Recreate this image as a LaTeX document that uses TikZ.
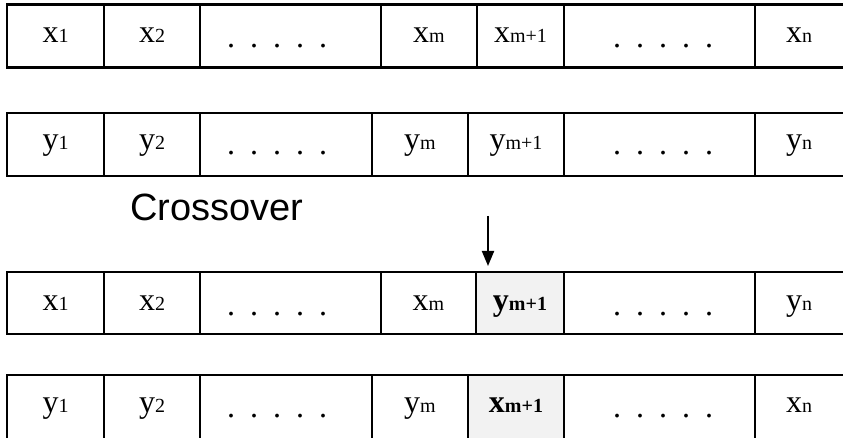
\documentclass[tikz,border=0pt]{standalone}
\usepackage{fontspec}
\setmainfont{Liberation Serif}
\newfontfamily\arialf{Liberation Sans}
\usetikzlibrary{arrows.meta}
\newcommand\subt[1]{{\fontsize{20}{20}\selectfont #1}}
\definecolor{hlgray}{HTML}{F2F2F2}
\tikzset{
  cell/.style={draw=black, line width=2.3pt, inner sep=0pt, outer sep=0pt},
  hl/.style={cell, fill=hlgray},
  lbl/.style={anchor=base, inner sep=0pt, font=\fontsize{32}{32}\selectfont},
  dts/.style={anchor=base west, inner sep=0pt, font=\fontsize{32}{32}\selectfont},
}
\newcommand\dotrow{.\hspace{15pt}.\hspace{15pt}.\hspace{15pt}.\hspace{15pt}.}
\begin{document}
\begin{tikzpicture}[x=1pt,y=-1pt]
\useasboundingbox (0,0) rectangle (843,438);
\clip (0,0) rectangle (843,438);
% row 1
\foreach \a/\b/\s [count=\i] in {7/104/cell,104/200/cell,200/381/cell,381/477/cell,477/564/cell,564/755/cell,755/870/cell}
  \node[\s, minimum width={\b-\a}, minimum height=63] (ra\i) at ({(\a+\b)/2},36) {};
% row 2
\foreach \a/\b/\s [count=\i] in {7/104/cell,104/200/cell,200/372/cell,372/468/cell,468/564/cell,564/755/cell,755/870/cell}
  \node[\s, minimum width={\b-\a}, minimum height=63] (rb\i) at ({(\a+\b)/2},144.5) {};
% row 3
\foreach \a/\b/\s [count=\i] in {7/104/cell,104/200/cell,200/381/cell,381/476/cell,476/564/hl,564/755/cell,755/870/cell}
  \node[\s, minimum width={\b-\a}, minimum height=62] (rc\i) at ({(\a+\b)/2},303) {};
% row 4
\foreach \a/\b/\s [count=\i] in {7/104/cell,104/200/cell,200/372/cell,372/468/cell,468/564/hl,564/755/cell,755/870/cell}
  \node[\s, minimum width={\b-\a}, minimum height=68] (rd\i) at ({(\a+\b)/2},409) {};

% labels row 1
\node[lbl] (la1) at (55.5,43) {x\subt{1}};
\node[lbl] (la2) at (152,43) {x\subt{2}};
\node[dts] (la3) at (227,48) {\dotrow};
\node[lbl] (la4) at (429,43) {x\subt{m}};
\node[lbl] (la5) at (520.5,43) {x\subt{m+1}};
\node[dts] (la6) at (613,48) {\dotrow};
\node[lbl] (la7) at (799,43) {x\subt{n}};
% labels row 2
\node[lbl] (lb1) at (55.5,150) {y\subt{1}};
\node[lbl] (lb2) at (152,150) {y\subt{2}};
\node[dts] (lb3) at (227,155) {\dotrow};
\node[lbl] (lb4) at (420,150) {y\subt{m}};
\node[lbl] (lb5) at (516,150) {y\subt{m+1}};
\node[dts] (lb6) at (613,155) {\dotrow};
\node[lbl] (lb7) at (799,150) {y\subt{n}};
% labels row 3
\node[lbl] (lc1) at (55.5,310) {x\subt{1}};
\node[lbl] (lc2) at (152,310) {x\subt{2}};
\node[dts] (lc3) at (227,315) {\dotrow};
\node[lbl] (lc4) at (428.5,310) {x\subt{m}};
\node[lbl] (lc5) at (520,310) {\textbf{y}\subt{\bfseries m+1}};
\node[dts] (lc6) at (613,315) {\dotrow};
\node[lbl] (lc7) at (799,310) {y\subt{n}};
% labels row 4
\node[lbl] (ld1) at (55.5,412) {y\subt{1}};
\node[lbl] (ld2) at (152,412) {y\subt{2}};
\node[dts] (ld3) at (227,417) {\dotrow};
\node[lbl] (ld4) at (420,412) {y\subt{m}};
\node[lbl] (ld5) at (516,412) {\textbf{x}\subt{\bfseries m+1}};
\node[dts] (ld6) at (613,417) {\dotrow};
\node[lbl] (ld7) at (799,412) {x\subt{n}};

% crossover
\node[anchor=base, inner sep=0pt, font=\arialf\fontsize{38}{38}\selectfont] (cross) at (217,221) {Crossover};
\coordinate (atop) at (488,216);
\coordinate (abot) at (488,266);
\draw[line width=2pt, -{Triangle[length=15pt,width=12pt]}] (atop) -- (abot);
\end{tikzpicture}
\end{document}
